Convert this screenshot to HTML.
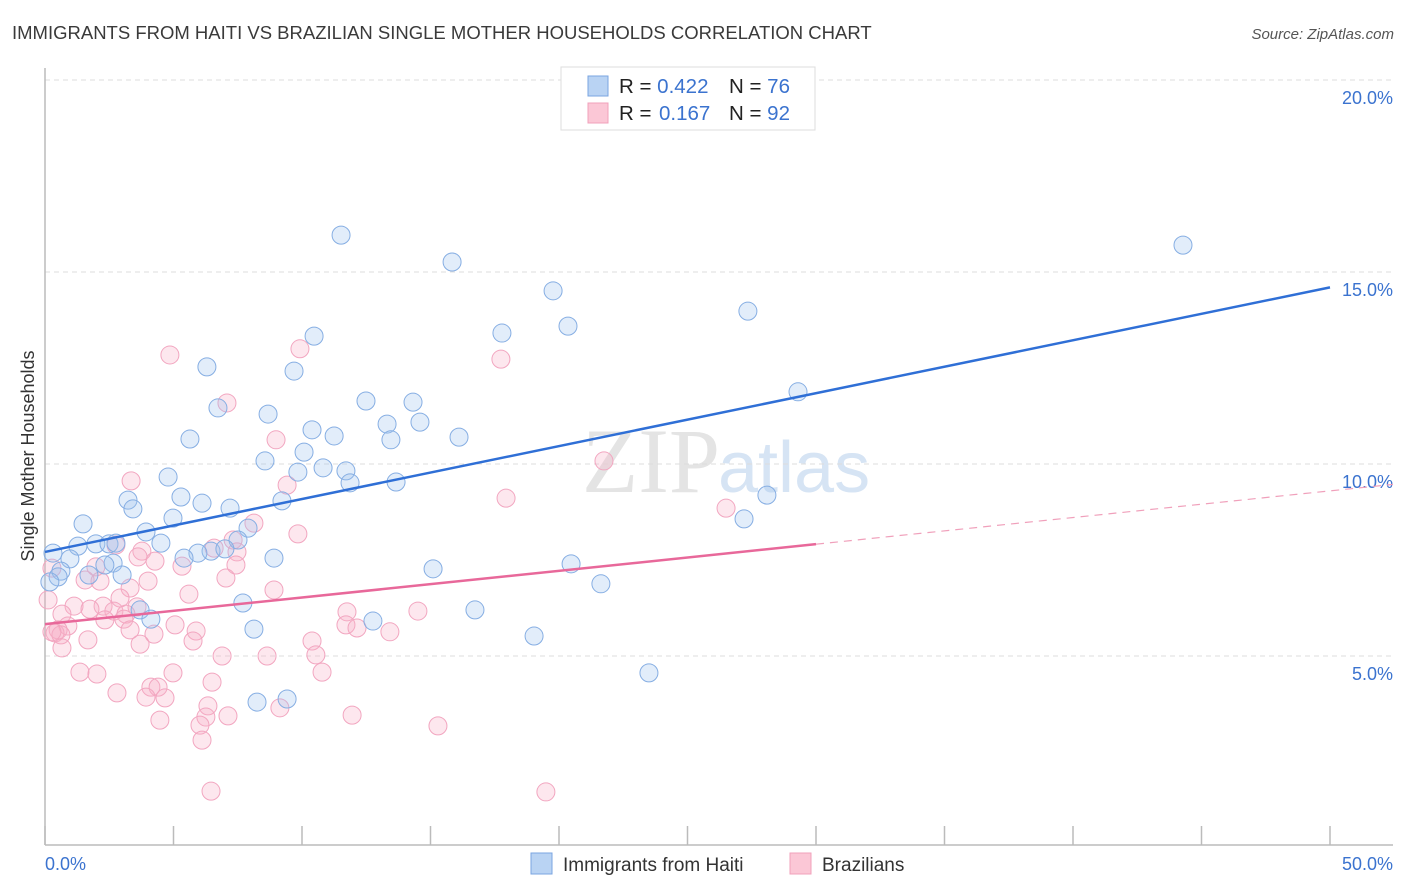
<!DOCTYPE html>
<html><head><meta charset="utf-8"><style>
body{margin:0;background:#fff;font-family:"Liberation Sans",sans-serif}
svg{display:block}
</style></head><body>
<svg id="chart" width="1406" height="892">
<text x="12" y="39" font-size="18.5" fill="#3a3a3a">IMMIGRANTS FROM HAITI VS BRAZILIAN SINGLE MOTHER HOUSEHOLDS CORRELATION CHART</text>
<text x="1394" y="39" font-size="15" fill="#555" font-style="italic" text-anchor="end">Source: ZipAtlas.com</text>
<text x="720" y="492" font-size="92" fill="#e4e4e4" text-anchor="end" font-family="Liberation Serif,serif">ZIP</text>
<text x="718" y="492" font-size="72" fill="#d6e4f4">atlas</text>
<g id="grid"></g>
<g id="axes"></g>
<g id="pts"></g>
<g id="lines"></g>
<text transform="translate(34,456) rotate(-90)" font-size="18" fill="#333" text-anchor="middle">Single Mother Households</text>
<text x="45" y="870" font-size="18" fill="#3b73cf">0.0%</text>
<text x="1393" y="870" font-size="18" fill="#3b73cf" text-anchor="end">50.0%</text>
<g>
<rect x="561" y="67" width="254" height="63" fill="#fff" stroke="#ddd"/>
<rect x="588" y="76" width="20" height="20" fill="#b9d3f3" stroke="#7aa5e0"/>
<rect x="588" y="103" width="20" height="20" fill="#fbc7d6" stroke="#f0a0bb"/>
<text x="619" y="93" font-size="20.5" fill="#222">R = <tspan fill="#3b73cf">0.422</tspan><tspan x="729">N = </tspan><tspan fill="#3b73cf">76</tspan></text>
<text x="619" y="120" font-size="20.5" fill="#222">R = <tspan x="659" fill="#3b73cf">0.167</tspan><tspan x="729">N = </tspan><tspan fill="#3b73cf">92</tspan></text>
</g>
<g>
<rect x="531" y="853" width="21" height="21" fill="#b9d3f3" stroke="#7aa5e0"/>
<text x="563" y="871" font-size="19" fill="#333">Immigrants from Haiti</text>
<rect x="790" y="853" width="21" height="21" fill="#fbc7d6" stroke="#f0a0bb"/>
<text x="822" y="871" font-size="19" fill="#333">Brazilians</text>
</g>
</svg>
<script>
const yTicks=[5,10,15,20];
const xTicks=[0,5,10,15,20,25,30,35,40,45,50];
const blueX=[11.52,15.84,44.28,19.77,17.78,20.35,27.35,10.47,6.30,9.69,29.30,12.49,6.73,14.32,8.68,13.31,14.59,10.39,11.25,5.64,13.46,16.11,8.56,10.08,9.84,10.82,11.71,11.87,4.79,13.66,5.29,3.23,3.42,6.11,7.20,9.22,28.09,4.98,1.48,27.20,3.93,7.90,7.51,1.98,2.49,2.76,1.28,4.51,6.46,0.31,7.00,5.95,5.41,8.91,0.97,2.65,0.62,2.33,20.47,15.10,1.71,3.00,0.51,0.19,21.63,7.70,3.70,16.73,4.12,12.76,8.13,19.03,23.50,8.25,9.42];
const blueY=[15.96,15.26,15.70,14.51,13.41,13.59,13.98,13.33,12.53,12.42,11.88,11.64,11.46,11.61,11.30,11.04,11.09,10.89,10.73,10.65,10.63,10.70,10.08,10.31,9.79,9.90,9.82,9.51,9.66,9.53,9.14,9.06,8.83,8.98,8.85,9.04,9.19,8.59,8.44,8.57,8.23,8.33,8.02,7.92,7.92,7.94,7.86,7.94,7.73,7.68,7.79,7.68,7.55,7.55,7.53,7.42,7.21,7.37,7.40,7.27,7.11,7.11,7.06,6.93,6.88,6.38,6.20,6.20,5.96,5.91,5.70,5.52,4.56,3.80,3.88];
const pinkX=[4.86,9.92,17.74,7.08,8.99,21.75,3.35,9.42,17.94,26.50,8.13,9.84,7.32,2.76,6.58,3.77,7.47,3.62,4.28,5.33,1.98,7.43,0.27,7.04,1.56,2.14,4.01,3.31,8.91,5.60,2.92,2.26,1.13,3.58,1.75,2.68,3.15,0.66,3.07,11.75,14.51,0.89,0.51,0.39,5.06,5.88,4.24,0.62,11.71,12.14,13.42,1.67,10.39,5.76,3.70,0.66,6.89,8.64,10.54,10.78,4.98,1.36,2.02,6.50,4.12,4.40,2.80,3.93,4.67,6.34,9.14,6.26,4.47,7.12,11.95,6.03,15.29,6.11,6.46,19.49,0.12,0.27,3.31,2.33];
const pinkY=[12.84,13.00,12.73,11.59,10.63,10.08,9.56,9.45,9.11,8.85,8.46,8.18,8.02,7.89,7.81,7.73,7.71,7.58,7.47,7.34,7.32,7.37,7.29,7.03,6.98,6.95,6.95,6.77,6.72,6.61,6.51,6.30,6.30,6.28,6.22,6.17,6.09,6.09,5.96,6.15,6.17,5.78,5.68,5.60,5.81,5.65,5.57,5.55,5.81,5.73,5.63,5.42,5.39,5.39,5.31,5.21,5.00,5.00,5.03,4.58,4.56,4.58,4.53,4.32,4.19,4.19,4.04,3.93,3.91,3.70,3.65,3.41,3.33,3.44,3.46,3.20,3.18,2.81,1.48,1.46,6.46,5.63,5.68,5.94];
const blueFit=[7.71,14.6];
const pinkFit=[5.83,9.3];
const pinkSolidEnd=30;
const X=v=>45+v*25.7, Y=v=>848-v*38.4;
const NS='http://www.w3.org/2000/svg';
function mk(tag,attrs,parent){const e=document.createElementNS(NS,tag);for(const k in attrs)e.setAttribute(k,attrs[k]);document.getElementById(parent).appendChild(e);return e;}
yTicks.forEach(t=>{
 const l=mk('line',{x1:45,x2:1393,y1:Y(t),y2:Y(t),stroke:'#ddd','stroke-dasharray':'5,4'},'grid');
 
 
 const tx=mk('text',{x:1393,y:Y(t)+24,'font-size':18,fill:'#3b73cf','text-anchor':'end'},'grid');
 tx.textContent=t.toFixed(1)+'%';
 
 
});
let a=mk('line',{x1:45,x2:45,y1:68,y2:845,stroke:'#bbb','stroke-width':1.5},'axes');


a=mk('line',{x1:45,x2:1393,y1:845,y2:845,stroke:'#bbb','stroke-width':1.5},'axes');


xTicks.forEach(t=>{
 const l=mk('line',{x1:X(t),x2:X(t),y1:826,y2:845,stroke:'#bbb','stroke-width':1.5},'axes');
 
 
});
function pts(xs,ys,fill,stroke,name){xs.forEach((x,i)=>{
 const c=mk('circle',{cx:X(x),cy:Y(ys[i]),r:9,fill:fill,stroke:stroke,'stroke-width':1},'pts');
 
 
});}
pts(pinkX,pinkY,'rgba(247,175,200,0.3)','#f2a6c0','brazilians-point');
pts(blueX,blueY,'rgba(160,195,240,0.3)','#86aee3','haiti-point');
let ln=mk('line',{x1:X(0),y1:Y(blueFit[0]),x2:X(50),y2:Y(blueFit[1]),stroke:'#2f6fd6','stroke-width':2.5},'lines');


const pAt=v=>pinkFit[0]+(pinkFit[1]-pinkFit[0])*v/50;
ln=mk('line',{x1:X(0),y1:Y(pinkFit[0]),x2:X(pinkSolidEnd),y2:Y(pAt(pinkSolidEnd)),stroke:'#e8689a','stroke-width':2.5},'lines');


ln=mk('line',{x1:X(pinkSolidEnd),y1:Y(pAt(pinkSolidEnd)),x2:1393,y2:Y(pAt((1393-45)/25.7)),stroke:'#f0a0bb','stroke-width':1.2,'stroke-dasharray':'8,6'},'lines');


</script>
</body></html>
